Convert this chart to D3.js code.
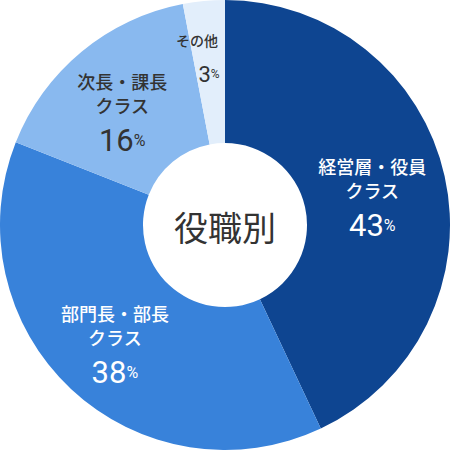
<!DOCTYPE html>
<html>
<head>
<meta charset="utf-8">
<script src="https://cdn.jsdelivr.net/npm/d3@7"></script>
<style>
  html, body { margin: 0; padding: 0; background: #fff; }
  svg { display: block; }
</style>
</head>
<body>
<svg id="chart" width="450" height="450"></svg>
<script>
// 役職別の構成比
const categories = ["経営層・役員", "部門長・部長", "次長・課長", "その他"];
const subLabels = ["クラス", "クラス", "クラス", ""];
const values = [43, 38, 16, 3];
const colors = ["#0e4591", "#3882da", "#89b9ef", "#e2eefb"];
const textColors = ["#fff", "#fff", "#333", "#333"];
const centerTitle = "役職別";

const size = 450;
const outerR = 225;
const innerR = 82;

const svg = d3.select("#chart");
const g = svg.append("g").attr("transform", `translate(${size / 2},${size / 2})`);

const rows = values.map((v, i) => ({
  name: categories[i], sub: subLabels[i], value: v,
  color: colors[i], text: textColors[i]
}));

const pie = d3.pie().value(d => d.value).sort(null);
const arc = d3.arc().innerRadius(innerR).outerRadius(outerR);
const arcs = pie(rows);

g.selectAll("path")
  .data(arcs)
  .enter()
  .append("path")
  .attr("d", arc)
  .attr("fill", d => d.data.color);

// ラベル
const labelPos = d => {
  const r = d.data.value < 5 ? 170 : 155;
  return d3.arc().innerRadius(r).outerRadius(r).centroid(d);
};

const labels = g.selectAll("g.label")
  .data(arcs)
  .enter()
  .append("g")
  .attr("class", "label")
  .attr("transform", d => {
    const [x, y] = labelPos(d);
    return d.data.value < 5
      ? `translate(${x - 12},${y})`
      : `translate(${x - 4},${y + 5})`;
  })
  .attr("fill", d => d.data.text)
  .attr("text-anchor", "middle");

const cjk = "'Noto Sans CJK JP', sans-serif";
const num = "Roboto, 'Noto Sans', sans-serif";

labels.each(function (d) {
  const sel = d3.select(this);
  if (d.data.value < 5) {
    sel.append("text")
      .attr("y", -16)
      .attr("dominant-baseline", "central")
      .style("font-family", cjk)
      .style("font-size", "14px")
      .style("font-weight", 500)
      .text(d.data.name);
    const t = sel.append("text")
      .attr("x", 12)
      .attr("y", 18)
      .attr("dominant-baseline", "central")
      .style("font-family", num)
      .style("font-weight", 400)
      .style("font-size", "22px");
    t.append("tspan").text(d.data.value);
    t.append("tspan").style("font-size", "12px").text("%");
  } else {
    sel.append("text")
      .attr("y", -30)
      .attr("dominant-baseline", "central")
      .style("font-family", cjk)
      .style("font-size", "18px")
      .style("font-weight", 500)
      .text(d.data.name);
    sel.append("text")
      .attr("y", -6)
      .attr("dominant-baseline", "central")
      .style("font-family", cjk)
      .style("font-size", "18px")
      .style("font-weight", 500)
      .text(d.data.sub);
    const t = sel.append("text")
      .attr("y", 29)
      .attr("dominant-baseline", "central")
      .style("font-family", num)
      .style("font-weight", 400)
      .style("font-size", "31px");
    t.append("tspan").text(d.data.value);
    t.append("tspan").style("font-size", "16px").text("%");
  }
});

// 中央タイトル
g.append("text")
  .attr("text-anchor", "middle")
  .attr("dominant-baseline", "central")
  .attr("y", 1)
  .attr("fill", "#333")
  .style("font-family", cjk)
  .style("font-size", "34px")
  .style("font-weight", 400)
  .text(centerTitle);
</script>
</body>
</html>
